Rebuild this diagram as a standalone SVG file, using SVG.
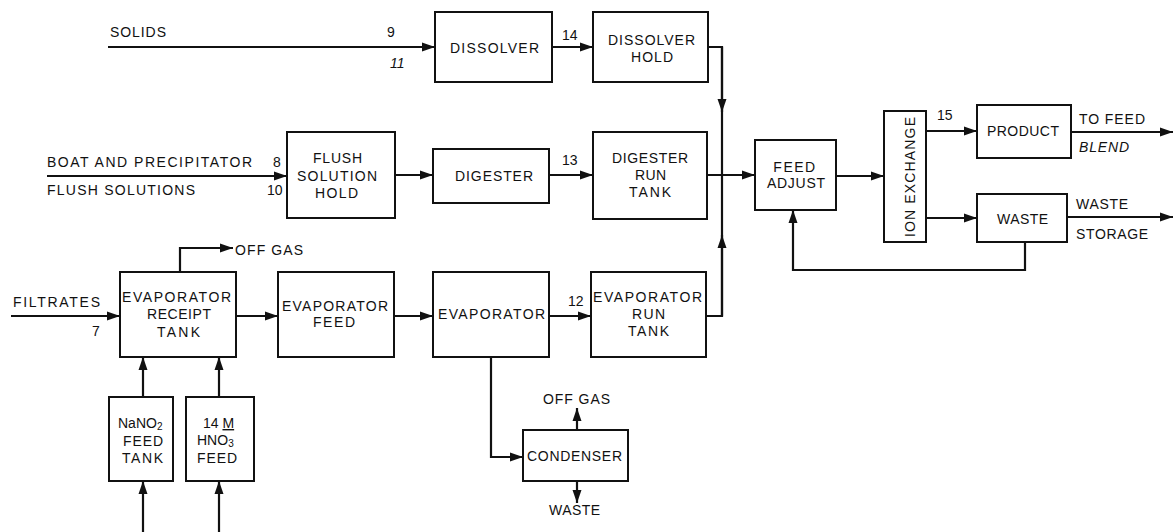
<svg xmlns="http://www.w3.org/2000/svg" width="1173" height="532" viewBox="0 0 1173 532">
<style>
.t{font-family:"Liberation Sans",Arial,Helvetica,sans-serif;font-size:14px;fill:#111}
.i{font-style:italic}
.box{fill:#fff;stroke:#111;stroke-width:2}
.c{fill:none;stroke:#111;stroke-width:2.2}
.a{marker-end:url(#ah)}
</style>
<defs>
<marker id="ah" markerUnits="userSpaceOnUse" markerWidth="14" markerHeight="10" refX="13" refY="5" orient="auto">
<path d="M0,0.5 L13,5 L0,9.5 z" fill="#111"/>
</marker>
</defs>
<rect width="1173" height="532" fill="#fff"/>

<g id="connectors">
<path class="c a" d="M108,47 H435"/>
<path class="c a" d="M552,47 H593"/>
<path class="c" d="M722,47 V316"/>
<path class="c a" d="M708,47 H722 V112"/>
<path class="c a" d="M47,176 H287"/>
<path class="c a" d="M395,175 H433"/>
<path class="c a" d="M549,175 H593"/>
<path class="c a" d="M707,175 H755"/>
<path class="c a" d="M836,176 H884"/>
<path class="c a" d="M926,131 H977"/>
<path class="c a" d="M926,218 H977"/>
<path class="c a" d="M1071,132 H1173"/>
<path class="c a" d="M1067,217 H1173"/>
<path class="c a" d="M1025,242 V270 H793 V210"/>
<path class="c a" d="M180,272 V248 H233"/>
<path class="c a" d="M11,316 H120"/>
<path class="c a" d="M236,316 H278"/>
<path class="c a" d="M394,316 H433"/>
<path class="c a" d="M549,316 H591"/>
<path class="c a" d="M706,316 H722 V235"/>
<path class="c a" d="M491,357 V457 H523"/>
<path class="c a" d="M577,430 V408"/>
<path class="c a" d="M577,481 V503"/>
<path class="c a" d="M143,397 V357"/>
<path class="c a" d="M219,397 V357"/>
<path class="c a" d="M143,532 V481"/>
<path class="c a" d="M219,532 V481"/>
</g>

<g id="labels">
<text class="t" x="110" y="37" textLength="56">SOLIDS</text>
<text class="t" x="387" y="37">9</text>
<text class="t i" x="390" y="68">11</text>
<text class="t" x="562" y="40">14</text>
<text class="t" x="47" y="167" textLength="205">BOAT AND PRECIPITATOR</text>
<text class="t" x="47" y="195" textLength="148">FLUSH SOLUTIONS</text>
<text class="t" x="273" y="167">8</text>
<text class="t" x="267" y="195">10</text>
<text class="t" x="562" y="165">13</text>
<text class="t" x="937" y="120">15</text>
<text class="t" x="1079" y="124" textLength="66">TO FEED</text>
<text class="t i" x="1079" y="152" textLength="50">BLEND</text>
<text class="t" x="1076" y="209" textLength="52">WASTE</text>
<text class="t" x="1076" y="239" textLength="72">STORAGE</text>
<text class="t" x="235" y="255" textLength="68">OFF GAS</text>
<text class="t" x="13" y="307" textLength="87">FILTRATES</text>
<text class="t" x="92" y="336">7</text>
<text class="t" x="568" y="306">12</text>
<text class="t" x="543" y="404" textLength="67">OFF GAS</text>
<text class="t" x="549" y="515" textLength="51">WASTE</text>
</g>

<g id="dissolver">
<rect class="box" x="435" y="12" width="117" height="70"/>
<text class="t" x="450" y="53" textLength="89">DISSOLVER</text>
</g>
<g id="dissolver-hold">
<rect class="box" x="593" y="12" width="115" height="70"/>
<text class="t" x="608" y="45" textLength="87">DISSOLVER</text>
<text class="t" x="631" y="62" textLength="42">HOLD</text>
</g>
<g id="flush-solution-hold">
<rect class="box" x="287" y="132" width="108" height="86"/>
<text class="t" x="313" y="163" textLength="49">FLUSH</text>
<text class="t" x="297" y="181" textLength="80">SOLUTION</text>
<text class="t" x="315" y="198" textLength="43">HOLD</text>
</g>
<g id="digester">
<rect class="box" x="433" y="149" width="116" height="54"/>
<text class="t" x="455" y="181" textLength="78">DIGESTER</text>
</g>
<g id="digester-run-tank">
<rect class="box" x="593" y="132" width="114" height="87"/>
<text class="t" x="612" y="163" textLength="76">DIGESTER</text>
<text class="t" x="635" y="180" textLength="31">RUN</text>
<text class="t" x="629" y="197" textLength="42">TANK</text>
</g>
<g id="feed-adjust">
<rect class="box" x="755" y="140" width="81" height="70"/>
<text class="t" x="795" y="172" text-anchor="middle" letter-spacing="1.5">FEED</text>
<text class="t" x="767" y="188" textLength="58">ADJUST</text>
</g>
<g id="ion-exchange">
<rect class="box" x="884" y="111" width="42" height="131"/>
<text class="t" transform="translate(915,237) rotate(-90)" x="0" y="0" textLength="120">ION EXCHANGE</text>
</g>
<g id="product">
<rect class="box" x="977" y="105" width="94" height="53"/>
<text class="t" x="987" y="136" textLength="72">PRODUCT</text>
</g>
<g id="waste">
<rect class="box" x="977" y="194" width="90" height="48"/>
<text class="t" x="997" y="224" textLength="51">WASTE</text>
</g>
<g id="evaporator-receipt-tank">
<rect class="box" x="120" y="272" width="116" height="85"/>
<text class="t" x="122" y="302" textLength="109">EVAPORATOR</text>
<text class="t" x="147" y="319" textLength="64">RECEIPT</text>
<text class="t" x="157" y="337" textLength="43">TANK</text>
</g>
<g id="evaporator-feed">
<rect class="box" x="278" y="272" width="116" height="85"/>
<text class="t" x="282" y="311" textLength="106">EVAPORATOR</text>
<text class="t" x="313" y="327" textLength="42">FEED</text>
</g>
<g id="evaporator">
<rect class="box" x="433" y="272" width="116" height="85"/>
<text class="t" x="438" y="319" textLength="107">EVAPORATOR</text>
</g>
<g id="evaporator-run-tank">
<rect class="box" x="591" y="272" width="115" height="85"/>
<text class="t" x="593" y="302" textLength="109">EVAPORATOR</text>
<text class="t" x="632" y="319" textLength="33">RUN</text>
<text class="t" x="628" y="336" textLength="41">TANK</text>
</g>
<g id="condenser">
<rect class="box" x="523" y="430" width="105" height="51"/>
<text class="t" x="527" y="461" textLength="95">CONDENSER</text>
</g>
<g id="nano2-feed-tank">
<rect class="box" x="109" y="397" width="64" height="84"/>
<text class="t" x="118" y="428">NaNO<tspan dy="2" font-size="10">2</tspan></text>
<text class="t" x="123" y="446" textLength="40">FEED</text>
<text class="t" x="122" y="463" textLength="41">TANK</text>
</g>
<g id="hno3-feed">
<rect class="box" x="186" y="397" width="68" height="84"/>
<text class="t" x="203" y="428">14 <tspan text-decoration="underline">M</tspan></text>
<text class="t" x="197" y="445">HNO<tspan dy="2" font-size="10">3</tspan></text>
<text class="t" x="197" y="463" textLength="40">FEED</text>
</g>
</svg>
